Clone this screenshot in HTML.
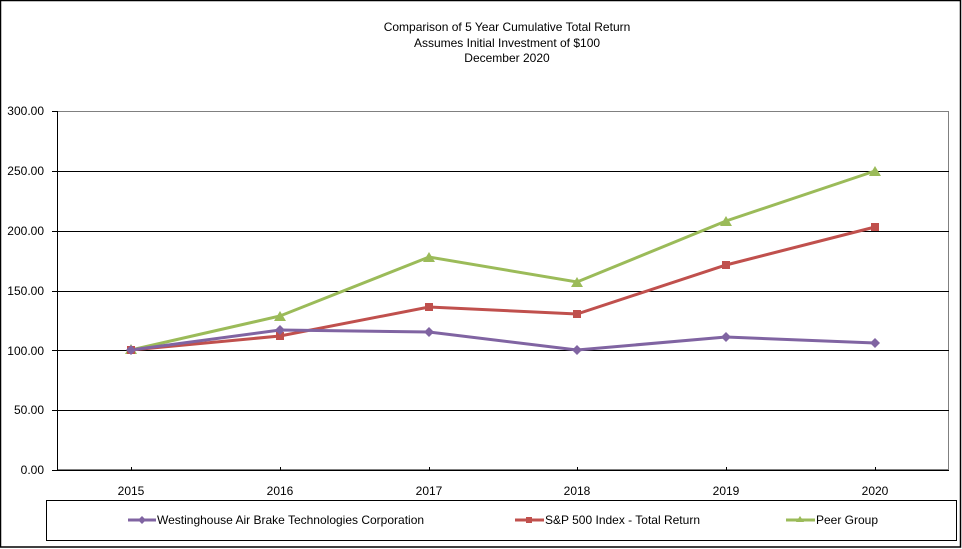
<!DOCTYPE html>
<html><head><meta charset="utf-8"><style>
body{margin:0;background:#fff}
svg{display:block}
text{font-family:"Liberation Sans",Arial,sans-serif;fill:#000}
</style></head><body>
<svg width="962" height="549" viewBox="0 0 962 549" xmlns="http://www.w3.org/2000/svg">
<rect x="0.5" y="0.5" width="960" height="546.5" fill="#fff" stroke="#000" stroke-width="1.5"/>
<g font-size="12" text-anchor="middle">
<text x="507" y="31">Comparison  of 5 Year Cumulative  Total Return</text>
<text x="507" y="47">Assumes Initial Investment  of $100</text>
<text x="507" y="62">December  2020</text>
</g>
<rect x="57.5" y="111.5" width="891" height="358" fill="none" stroke="#808080"/>
<g stroke="#000" stroke-width="1">
<line x1="57" y1="171.5" x2="949" y2="171.5"/>
<line x1="57" y1="231.5" x2="949" y2="231.5"/>
<line x1="57" y1="291.5" x2="949" y2="291.5"/>
<line x1="57" y1="350.5" x2="949" y2="350.5"/>
<line x1="57" y1="410.5" x2="949" y2="410.5"/>
<line x1="57" y1="470.5" x2="949" y2="470.5"/>
<line x1="57.5" y1="111" x2="57.5" y2="470"/>
<line x1="52" y1="111.5" x2="57" y2="111.5"/><line x1="52" y1="171.5" x2="57" y2="171.5"/><line x1="52" y1="231.5" x2="57" y2="231.5"/><line x1="52" y1="291.5" x2="57" y2="291.5"/><line x1="52" y1="350.5" x2="57" y2="350.5"/><line x1="52" y1="410.5" x2="57" y2="410.5"/><line x1="52" y1="470.5" x2="57" y2="470.5"/>
<line x1="131.5" y1="467" x2="131.5" y2="470"/><line x1="280.5" y1="467" x2="280.5" y2="470"/><line x1="429.5" y1="467" x2="429.5" y2="470"/><line x1="577.5" y1="467" x2="577.5" y2="470"/><line x1="726.5" y1="467" x2="726.5" y2="470"/><line x1="875.5" y1="467" x2="875.5" y2="470"/>
</g>
<g font-size="12" text-anchor="end">
<text x="44" y="115">300.00</text><text x="44" y="175">250.00</text><text x="44" y="235">200.00</text><text x="44" y="295">150.00</text><text x="44" y="355">100.00</text><text x="44" y="414">50.00</text><text x="44" y="474">0.00</text>
</g>
<g font-size="12" text-anchor="middle">
<text x="131" y="495">2015</text><text x="280" y="495">2016</text><text x="429" y="495">2017</text><text x="577" y="495">2018</text><text x="726" y="495">2019</text><text x="875" y="495">2020</text>
</g>
<polyline points="131,350 280,316 429,257 577,282 726,221 875,171" fill="none" stroke="#9bbb59" stroke-width="3"/>
<polyline points="131,350 280,336 429,307 577,314 726,265 875,227" fill="none" stroke="#c0504d" stroke-width="3"/>
<polyline points="131,350 280,330 429,332 577,350 726,337 875,343" fill="none" stroke="#8064a2" stroke-width="3"/>
<g fill="#9bbb59">
<polygon points="131,344 137,354 125,354"/><polygon points="280,311 286,321 274,321"/><polygon points="429,252 435,262 423,262"/><polygon points="577,277 583,287 571,287"/><polygon points="726,216 732,226 720,226"/><polygon points="875,166 881,176 869,176"/>
</g>
<g fill="#c0504d">
<rect x="127" y="346" width="8" height="8"/><rect x="276" y="332" width="8" height="8"/><rect x="425" y="303" width="8" height="8"/><rect x="573" y="310" width="8" height="8"/><rect x="722" y="261" width="8" height="8"/><rect x="871" y="223" width="8" height="8"/>
</g>
<g fill="#8064a2">
<polygon points="131,345 136,350 131,355 126,350"/><polygon points="280,325 285,330 280,335 275,330"/><polygon points="429,327 434,332 429,337 424,332"/><polygon points="577,345 582,350 577,355 572,350"/><polygon points="726,332 731,337 726,342 721,337"/><polygon points="875,338 880,343 875,348 870,343"/>
</g>
<rect x="46.5" y="500.5" width="910" height="40" fill="none" stroke="#000"/>
<line x1="128" y1="520" x2="156" y2="520" stroke="#8064a2" stroke-width="3"/><polygon points="142,516 146,520 142,524 138,520" fill="#8064a2"/>
<text x="157" y="524" font-size="12">Westinghouse Air Brake Technologies Corporation</text>
<line x1="515" y1="520" x2="544" y2="520" stroke="#c0504d" stroke-width="3"/><rect x="526" y="517" width="6" height="6" fill="#c0504d"/>
<text x="545" y="524" font-size="12">S&amp;P 500 Index - Total Return</text>
<line x1="786" y1="520" x2="815" y2="520" stroke="#9bbb59" stroke-width="3"/><polygon points="800,516 804,522 796,522" fill="#9bbb59"/>
<text x="816" y="524" font-size="12">Peer Group</text>
</svg>
</body></html>
